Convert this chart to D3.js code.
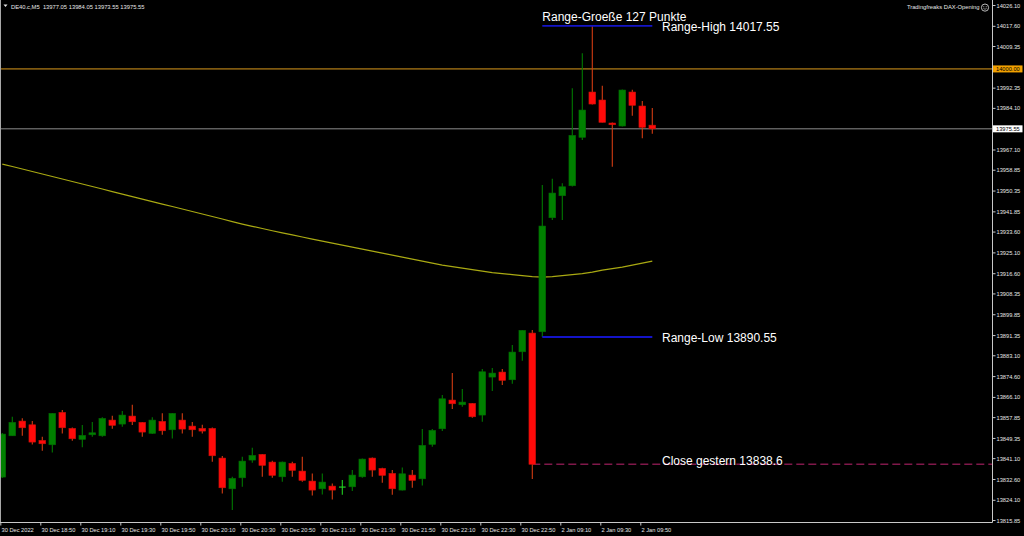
<!DOCTYPE html>
<html><head><meta charset="utf-8">
<script src="https://cdn.jsdelivr.net/npm/d3@7"></script>
<style>html,body{margin:0;padding:0;background:#000;overflow:hidden}</style>
</head><body><svg id="c" width="1024" height="536"></svg>
<script>
const barTimes = [
"30 Dec 18:30","30 Dec 18:35","30 Dec 18:40","30 Dec 18:45","30 Dec 18:50","30 Dec 18:55",
"30 Dec 19:00","30 Dec 19:05","30 Dec 19:10","30 Dec 19:15","30 Dec 19:20","30 Dec 19:25",
"30 Dec 19:30","30 Dec 19:35","30 Dec 19:40","30 Dec 19:45","30 Dec 19:50","30 Dec 19:55",
"30 Dec 20:00","30 Dec 20:05","30 Dec 20:10","30 Dec 20:15","30 Dec 20:20","30 Dec 20:25",
"30 Dec 20:30","30 Dec 20:35","30 Dec 20:40","30 Dec 20:45","30 Dec 20:50","30 Dec 20:55",
"30 Dec 21:00","30 Dec 21:05","30 Dec 21:10","30 Dec 21:15","30 Dec 21:20","30 Dec 21:25",
"30 Dec 21:30","30 Dec 21:35","30 Dec 21:40","30 Dec 21:45","30 Dec 21:50","30 Dec 21:55",
"30 Dec 22:00","30 Dec 22:05","30 Dec 22:10","30 Dec 22:15","30 Dec 22:20","30 Dec 22:25",
"30 Dec 22:30","30 Dec 22:35","30 Dec 22:40","30 Dec 22:45","30 Dec 22:50","30 Dec 22:55",
"2 Jan 09:00","2 Jan 09:05","2 Jan 09:10","2 Jan 09:15","2 Jan 09:20","2 Jan 09:25",
"2 Jan 09:30","2 Jan 09:35","2 Jan 09:40","2 Jan 09:45","2 Jan 09:50","2 Jan 09:55"];

const opens = [13833.37,13850.23,13856.24,13854.72,13848.35,13846.56,13859.79,13853.25,13848.76,13850.64,
13850.23,13856.64,13855.01,13858.28,13855.70,13851.21,13856.11,13852.68,13856.64,13854.19,
13853.25,13853.25,13841.13,13828.59,13833.08,13840.31,13842.64,13839.49,13833.49,13838.96,
13835.82,13831.74,13828.59,13829.69,13829.29,13829.41,13833.49,13841.13,13836.92,13834.88,
13828.06,13834.19,13832.67,13846.72,13853.09,13864.81,13862.89,13863.46,13858.69,13874.20,
13876.24,13873.10,13884.53,13892.17,13892.70,13939.25,13948.23,13952.31,13972.08,13990.57,
13987.31,13977.91,13976.69,13990.57,13984.86,13977.05];

const highs = [13851.34,13857.99,13857.34,13856.24,13849.82,13859.50,13860.73,13853.66,13854.60,13855.83,
13857.75,13858.40,13860.32,13862.89,13855.83,13857.75,13859.38,13859.50,13859.38,13855.83,
13854.72,13853.66,13841.94,13833.49,13841.66,13845.33,13842.76,13840.02,13839.70,13839.62,
13841.66,13834.88,13834.88,13830.80,13832.14,13836.23,13840.92,13841.33,13837.17,13836.23,
13837.33,13836.23,13852.97,13852.97,13866.85,13875.83,13869.30,13863.59,13877.47,13877.88,
13877.47,13887.27,13893.39,13893.39,13952.60,13955.17,13953.29,13992.08,14006.38,14017.55,
13993.15,13978.12,13991.59,13991.51,13986.90,13984.05];

const lows = [13832.96,13850.11,13850.23,13846.72,13844.11,13843.45,13851.21,13848.19,13845.50,13849.82,
13849.82,13853.09,13853.91,13854.60,13849.82,13850.93,13850.64,13849.17,13851.21,13849.82,
13851.21,13839.62,13826.71,13819.89,13829.41,13839.21,13833.49,13833.08,13831.45,13833.49,
13831.45,13825.90,13826.30,13824.26,13826.14,13827.65,13833.08,13833.49,13831.04,13826.14,
13827.85,13829.00,13829.98,13845.74,13852.15,13861.14,13862.07,13857.58,13855.95,13868.48,
13870.93,13871.47,13880.86,13832.55,13890.55,13938.31,13938.31,13951.99,13970.97,13985.47,
13978.12,13960.07,13976.49,13980.90,13971.67,13973.55];

const closes = [13850.93,13855.70,13853.50,13847.66,13846.97,13859.38,13853.50,13849.01,13850.40,13851.46,
13857.34,13854.48,13858.69,13855.95,13851.74,13856.64,13852.27,13859.38,13852.97,13852.68,
13852.15,13842.07,13829.00,13832.84,13839.90,13842.23,13838.15,13834.06,13839.49,13836.10,
13832.02,13828.06,13831.33,13828.06,13829.29,13834.19,13840.72,13836.23,13834.06,13828.59,
13834.72,13832.02,13846.31,13852.44,13865.34,13863.30,13863.99,13857.99,13876.37,13875.83,
13872.85,13884.41,13893.27,13838.60,13935.86,13949.33,13951.90,13972.89,13983.22,13985.67,
13978.20,13977.22,13991.39,13985.14,13976.16,13975.55];

const maValues = [13961.17,13960.15,13959.13,13958.11,13957.09,13956.07,13955.05,13954.03,13953.01,13951.99,
13950.97,13949.94,13948.92,13947.90,13946.88,13945.86,13944.84,13943.82,13942.80,13941.78,
13940.76,13939.74,13938.72,13937.69,13936.67,13935.73,13934.84,13933.94,13933.08,13932.26,
13931.37,13930.55,13929.73,13928.92,13928.10,13927.28,13926.47,13925.65,13924.83,13924.02,
13923.20,13922.38,13921.57,13920.75,13919.93,13919.32,13918.71,13918.10,13917.48,13916.87,
13916.46,13916.05,13915.64,13915.24,13915.03,13915.24,13915.64,13916.05,13916.46,13917.07,
13917.89,13918.50,13919.12,13919.93,13920.75,13921.57];

const yTickValues = [14026.10,14017.60,14009.35,13992.35,13984.10,13967.10,13958.85,13950.35,13941.85,
13933.60,13925.10,13916.60,13908.35,13899.85,13891.35,13883.10,13874.60,13866.10,13857.85,
13849.35,13841.10,13832.60,13824.10,13815.85];

const xTickTimes = ["30 Dec 18:30","30 Dec 18:50","30 Dec 19:10","30 Dec 19:30","30 Dec 19:50","30 Dec 20:10",
"30 Dec 20:30","30 Dec 20:50","30 Dec 21:10","30 Dec 21:30","30 Dec 21:50","30 Dec 22:10","30 Dec 22:30",
"30 Dec 22:50","2 Jan 09:10","2 Jan 09:30","2 Jan 09:50"];
const xTickLabels = ["30 Dec 2022","30 Dec 18:50","30 Dec 19:10","30 Dec 19:30","30 Dec 19:50","30 Dec 20:10",
"30 Dec 20:30","30 Dec 20:50","30 Dec 21:10","30 Dec 21:30","30 Dec 21:50","30 Dec 22:10","30 Dec 22:30",
"30 Dec 22:50","2 Jan 09:10","2 Jan 09:30","2 Jan 09:50"];

const roundLevel = 14000.00;
const lastPrice = 13975.55;
const rangeHigh = 14017.55;
const rangeLow = 13890.55;
const closeYesterday = 13838.6;
const rangeSize = 127;
const rangeStart = "2 Jan 09:00", rangeEnd = "2 Jan 09:55", closeStart = "30 Dec 22:55";
const headerText = "DE40.c,M5  13977.05 13984.05 13973.55 13975.55";
const indicatorName = "Tradingfreaks DAX-Opening";

// ---------- drawing ----------
const W = 1024, H = 536, plotRight = 992, plotBottom = 522;
const smallFont = "'Liberation Sans', Arial, sans-serif";
const svg = d3.select("#c");
svg.append("rect").attr("width", W).attr("height", H).attr("fill", "#000");

const x = d3.scaleBand().domain(barTimes).range([-2.7, 657.3]).paddingInner(0.33).paddingOuter(0.165);
const cx = t => x(t) + x.bandwidth() / 2;
const y = d3.scaleLinear().domain([13815.85, 14026.10]).range([520, 5]);

svg.append("clipPath").attr("id", "plot").append("rect")
  .attr("x", 1).attr("y", 0).attr("width", plotRight - 1).attr("height", plotBottom);
const plot = svg.append("g").attr("clip-path", "url(#plot)");

// horizontal price lines
plot.append("line").attr("x1", 0).attr("x2", plotRight).attr("y1", y(roundLevel)).attr("y2", y(roundLevel))
  .attr("stroke", "#dc9b1c").attr("stroke-width", 1);
plot.append("line").attr("x1", 0).attr("x2", plotRight).attr("y1", y(lastPrice)).attr("y2", y(lastPrice))
  .attr("stroke", "#8c8c8c").attr("stroke-width", 1);

// moving average
const maLine = d3.line().x((d, i) => cx(barTimes[i])).y(d => y(d));
plot.append("path").datum(maValues).attr("d", maLine).attr("fill", "none")
  .attr("stroke", "#a9a912").attr("stroke-width", 1.2);

// close yesterday dashed line
plot.append("line").attr("x1", cx(closeStart)).attr("x2", plotRight)
  .attr("y1", y(closeYesterday)).attr("y2", y(closeYesterday))
  .attr("stroke", "#80184a").attr("stroke-width", 1.3).attr("stroke-dasharray", "8,4");

// candles
const bars = barTimes.map((t, i) => ({t, o: opens[i], h: highs[i], l: lows[i], c: closes[i]}));
const bw = x.bandwidth();
const cg = plot.append("g");
bars.forEach(b => {
  const xc = cx(b.t);
  const kind = b.c > b.o ? "bull" : (b.c < b.o ? "bear" : "doji");
  const wickCol = kind === "bull" ? "#007a00" : (kind === "bear" ? "#d23c12" : "#22d022");
  cg.append("line").attr("x1", xc).attr("x2", xc).attr("y1", y(b.h)).attr("y2", y(b.l))
    .attr("stroke", wickCol).attr("stroke-width", 1.1);
  if (kind === "doji") {
    cg.append("line").attr("x1", x(b.t)).attr("x2", x(b.t) + bw).attr("y1", y(b.o)).attr("y2", y(b.o))
      .attr("stroke", "#22d022").attr("stroke-width", 1.2);
  } else {
    const top = y(Math.max(b.o, b.c)), bot = y(Math.min(b.o, b.c));
    cg.append("rect").attr("x", x(b.t)).attr("width", bw)
      .attr("y", top).attr("height", Math.max(1.2, bot - top))
      .attr("fill", kind === "bull" ? "#008000" : "#ff0a0a")
      .attr("stroke", kind === "bull" ? "#006a00" : "#c81008").attr("stroke-width", 0.6);
  }
});

// range lines
[rangeHigh, rangeLow].forEach(v => {
  plot.append("line").attr("x1", cx(rangeStart)).attr("x2", cx(rangeEnd)).attr("y1", y(v)).attr("y2", y(v))
    .attr("stroke", "#1414c8").attr("stroke-width", 1.8);
});

// text annotations
const annFont = "'Liberation Sans', Arial, sans-serif";
const ann = [
  {txt: "Range-Groeße " + rangeSize + " Punkte", x: cx(rangeStart), v: rangeHigh, dy: -5},
  {txt: "Range-High " + rangeHigh.toFixed(2), x: 662, v: rangeHigh, dy: 5},
  {txt: "Range-Low " + rangeLow.toFixed(2), x: 662, v: rangeLow, dy: 5},
  {txt: "Close gestern " + closeYesterday, x: 662, v: closeYesterday, dy: 0.5}
];
ann.forEach(a => {
  svg.append("text").attr("x", a.x).attr("y", y(a.v) + a.dy).text(a.txt)
    .attr("fill", "#ffffff").attr("font-family", annFont).attr("font-size", 12);
});

// borders
svg.append("line").attr("x1", 0.5).attr("x2", 0.5).attr("y1", 0).attr("y2", plotBottom).attr("stroke", "#a8a8a8");
svg.append("line").attr("x1", plotRight + 0.5).attr("x2", plotRight + 0.5).attr("y1", 0).attr("y2", plotBottom + 0.5).attr("stroke", "#c8c8c8");
svg.append("line").attr("x1", 0).attr("x2", plotRight + 0.5).attr("y1", plotBottom + 0.5).attr("y2", plotBottom + 0.5).attr("stroke", "#c8c8c8");

// right axis
const yAxis = d3.axisRight(y).tickValues(yTickValues).tickSize(3).tickPadding(1).tickFormat(d => d.toFixed(2));
const gy = svg.append("g").attr("transform", `translate(${plotRight + 0.5},0)`).call(yAxis)
  .attr("font-family", smallFont).attr("font-size", 5.7);
gy.select(".domain").remove();
gy.selectAll(".tick line").attr("stroke", "#c8c8c8");
gy.selectAll(".tick text").attr("fill", "#e6e6e6").attr("dy", "0.36em");

// price boxes
[{v: roundLevel, bg: "#f2a100"}, {v: lastPrice, bg: "#ffffff"}].forEach(p => {
  svg.append("rect").attr("x", plotRight + 1).attr("y", y(p.v) - 3.5).attr("width", 29.5).attr("height", 7).attr("fill", p.bg);
  svg.append("text").attr("x", plotRight + 4).attr("y", y(p.v)).attr("dy", "0.36em").text(p.v.toFixed(2))
    .attr("fill", "#000").attr("font-family", smallFont).attr("font-size", 5.7);
});

// bottom axis
const xAxis = d3.axisBottom(x).tickValues(xTickTimes).tickSize(3).tickPadding(2)
  .tickFormat(d => xTickLabels[xTickTimes.indexOf(d)]);
const gx = svg.append("g").attr("transform", `translate(0,${plotBottom + 0.5})`).call(xAxis)
  .attr("font-family", smallFont).attr("font-size", 5.7);
gx.select(".domain").remove();
gx.selectAll(".tick line").attr("stroke", "#c8c8c8").attr("x1", -1.5).attr("x2", -1.5);
gx.selectAll(".tick text").attr("fill", "#e6e6e6").attr("text-anchor", "start").attr("x", -0.8);

// header
svg.append("path").attr("d", "M3.5,4.5 L7.5,4.5 L5.5,7 Z").attr("fill", "#e6e6e6");
svg.append("text").attr("x", 11).attr("y", 8.8).text(headerText)
  .attr("fill", "#e6e6e6").attr("font-family", smallFont).attr("font-size", 5.8).attr("xml:space", "preserve")
  .style("white-space", "pre");
svg.append("text").attr("x", 979.5).attr("y", 9).attr("text-anchor", "end").text(indicatorName)
  .attr("fill", "#e6e6e6").attr("font-family", smallFont).attr("font-size", 5.8);
const sm = svg.append("g").attr("transform", "translate(985,7.6)");
sm.append("circle").attr("r", 3.6).attr("fill", "none").attr("stroke", "#e6e6e6").attr("stroke-width", 0.8);
sm.append("circle").attr("cx", -1.2).attr("cy", -0.9).attr("r", 0.5).attr("fill", "#e6e6e6");
sm.append("circle").attr("cx", 1.2).attr("cy", -0.9).attr("r", 0.5).attr("fill", "#e6e6e6");
sm.append("path").attr("d", "M-1.6,0.9 Q0,2.4 1.6,0.9").attr("fill", "none").attr("stroke", "#e6e6e6").attr("stroke-width", 0.6);
</script>
</body></html>
